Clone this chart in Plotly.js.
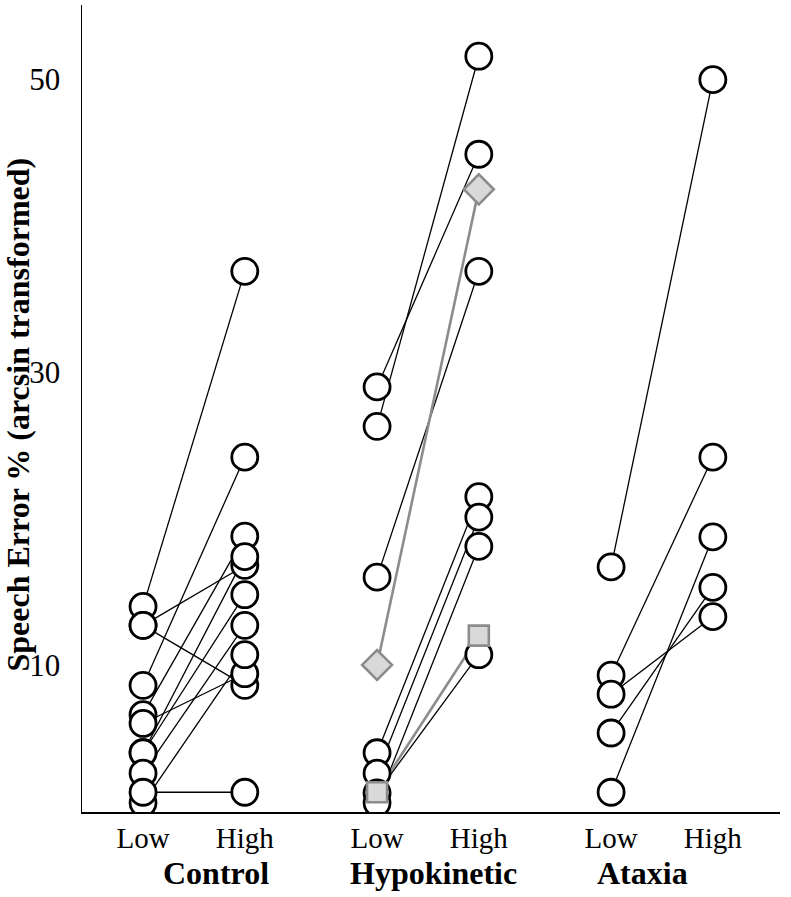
<!DOCTYPE html>
<html>
<head>
<meta charset="utf-8">
<script src="https://cdn.plot.ly/plotly-3.0.1.min.js"></script>
<style>html,body{margin:0;padding:0;background:#fff;}#chart{width:791px;height:897px;}</style>
</head>
<body>
<div id="chart"></div>
<script>
// ---- data ----
const categories = ['Low', 'High'];
const groups = ['Control', 'Hypokinetic', 'Ataxia'];
const yTitle = 'Speech Error % (arcsin transformed)';
const yTicks = [10, 30, 50];

const controlLow  = [14.0, 12.7, 12.7, 8.6, 6.6, 6.0, 4.0, 4.0, 2.6, 0.56, 1.3];
const controlHigh = [36.9, 16.8, 8.6, 24.2, 18.8, 9.4, 17.4, 14.8, 12.7, 10.7, 1.3];

const hypoLow  = [29.0, 26.3, 16.0, 4.0, 2.6, 1.25, 0.56];
const hypoHigh = [44.9, 51.6, 36.9, 21.5, 20.1, 10.7, 18.1];
const hypoDiamond = [10.0, 42.5];
const hypoSquare  = [1.3, 12.0];

const ataxiaLow  = [16.7, 9.3, 8.0, 5.35, 1.3];
const ataxiaHigh = [50.0, 24.2, 13.3, 15.3, 18.75];

// ---- layout helpers ----
const groupOffset = [0, 2.3, 4.6];
const FONT = '"Liberation Serif", "Times New Roman", serif';

function pairLines(low, high, g) {
  const x = [], y = [];
  for (let i = 0; i < low.length; i++) {
    x.push(groupOffset[g], groupOffset[g] + 1, null);
    y.push(low[i], high[i], null);
  }
  return {x, y};
}
function pairPoints(low, high, g) {
  return {
    x: low.map(() => groupOffset[g]).concat(high.map(() => groupOffset[g] + 1)),
    y: low.concat(high)
  };
}

const blackSets = [[controlLow, controlHigh, 0], [hypoLow, hypoHigh, 1], [ataxiaLow, ataxiaHigh, 2]];
const traces = [];

// black connecting lines
const bl = {x: [], y: []};
blackSets.forEach(([l, h, g]) => { const p = pairLines(l, h, g); bl.x.push(...p.x); bl.y.push(...p.y); });
traces.push({type: 'scatter', mode: 'lines', x: bl.x, y: bl.y, connectgaps: false,
  line: {color: '#000', width: 1.3}, hoverinfo: 'skip', showlegend: false});

// gray lines
[hypoDiamond, hypoSquare].forEach(arr => {
  const p = pairLines([arr[0]], [arr[1]], 1);
  traces.push({type: 'scatter', mode: 'lines', x: p.x, y: p.y,
    line: {color: '#8c8c8c', width: 2.6}, hoverinfo: 'skip', showlegend: false});
});

// black circles
const bp = {x: [], y: []};
blackSets.forEach(([l, h, g]) => { const p = pairPoints(l, h, g); bp.x.push(...p.x); bp.y.push(...p.y); });
traces.push({type: 'scatter', mode: 'markers', x: bp.x, y: bp.y,
  marker: {symbol: 'circle', size: 26, color: '#fff', line: {color: '#000', width: 2.8}},
  showlegend: false});

// gray markers
traces.push({type: 'scatter', mode: 'markers', x: [groupOffset[1], groupOffset[1] + 1], y: hypoDiamond,
  marker: {symbol: 'diamond', size: 23, color: '#d9d9d9', line: {color: '#8c8c8c', width: 2.6}},
  showlegend: false});
traces.push({type: 'scatter', mode: 'markers', x: [groupOffset[1], groupOffset[1] + 1], y: hypoSquare,
  marker: {symbol: 'square', size: 20, color: '#d9d9d9', line: {color: '#8c8c8c', width: 2.6}},
  showlegend: false});

const tickvals = [], ticktext = [];
groupOffset.forEach(o => { categories.forEach((c, i) => { tickvals.push(o + i); ticktext.push(c); }); });

const groupLabelX = [0.72, 2.857, 4.907];
const annotations = groups.map((g, i) => ({
  text: '<b>' + g + '</b>', x: groupLabelX[i], xref: 'x', y: 0, yref: 'paper',
  yanchor: 'middle', xanchor: 'center', yshift: -61, showarrow: false,
  font: {family: FONT, size: 32, color: '#000'}
}));
annotations.push({
  text: '<b>' + yTitle + '</b>', textangle: -90, x: 0, xref: 'paper', xanchor: 'center', xshift: -64,
  y: 0.4926, yref: 'paper', yanchor: 'middle', showarrow: false,
  font: {family: FONT, size: 32, color: '#000'}
});

const layout = {
  width: 791, height: 897,
  margin: {l: 82, r: 11, t: 5, b: 85},
  paper_bgcolor: '#fff', plot_bgcolor: '#fff',
  showlegend: false,
  font: {family: FONT, color: '#000'},
  xaxis: {
    range: [-0.6, 6.26], tickvals: tickvals, ticktext: ticktext,
    showgrid: false, zeroline: false, showline: true, linecolor: '#000', linewidth: 1.5,
    ticks: '', ticklabelstandoff: 0, tickfont: {family: FONT, size: 29, color: '#000'}
  },
  yaxis: {
    range: [-0.05, 55.1], tickvals: yTicks,
    showgrid: false, zeroline: false, showline: true, linecolor: '#000', linewidth: 1.5,
    ticks: '', ticklabelstandoff: 14, tickfont: {family: FONT, size: 31, color: '#000'}
  },
  annotations: annotations
};

Plotly.newPlot('chart', traces, layout, {displayModeBar: false, staticPlot: true});
</script>
</body>
</html>
